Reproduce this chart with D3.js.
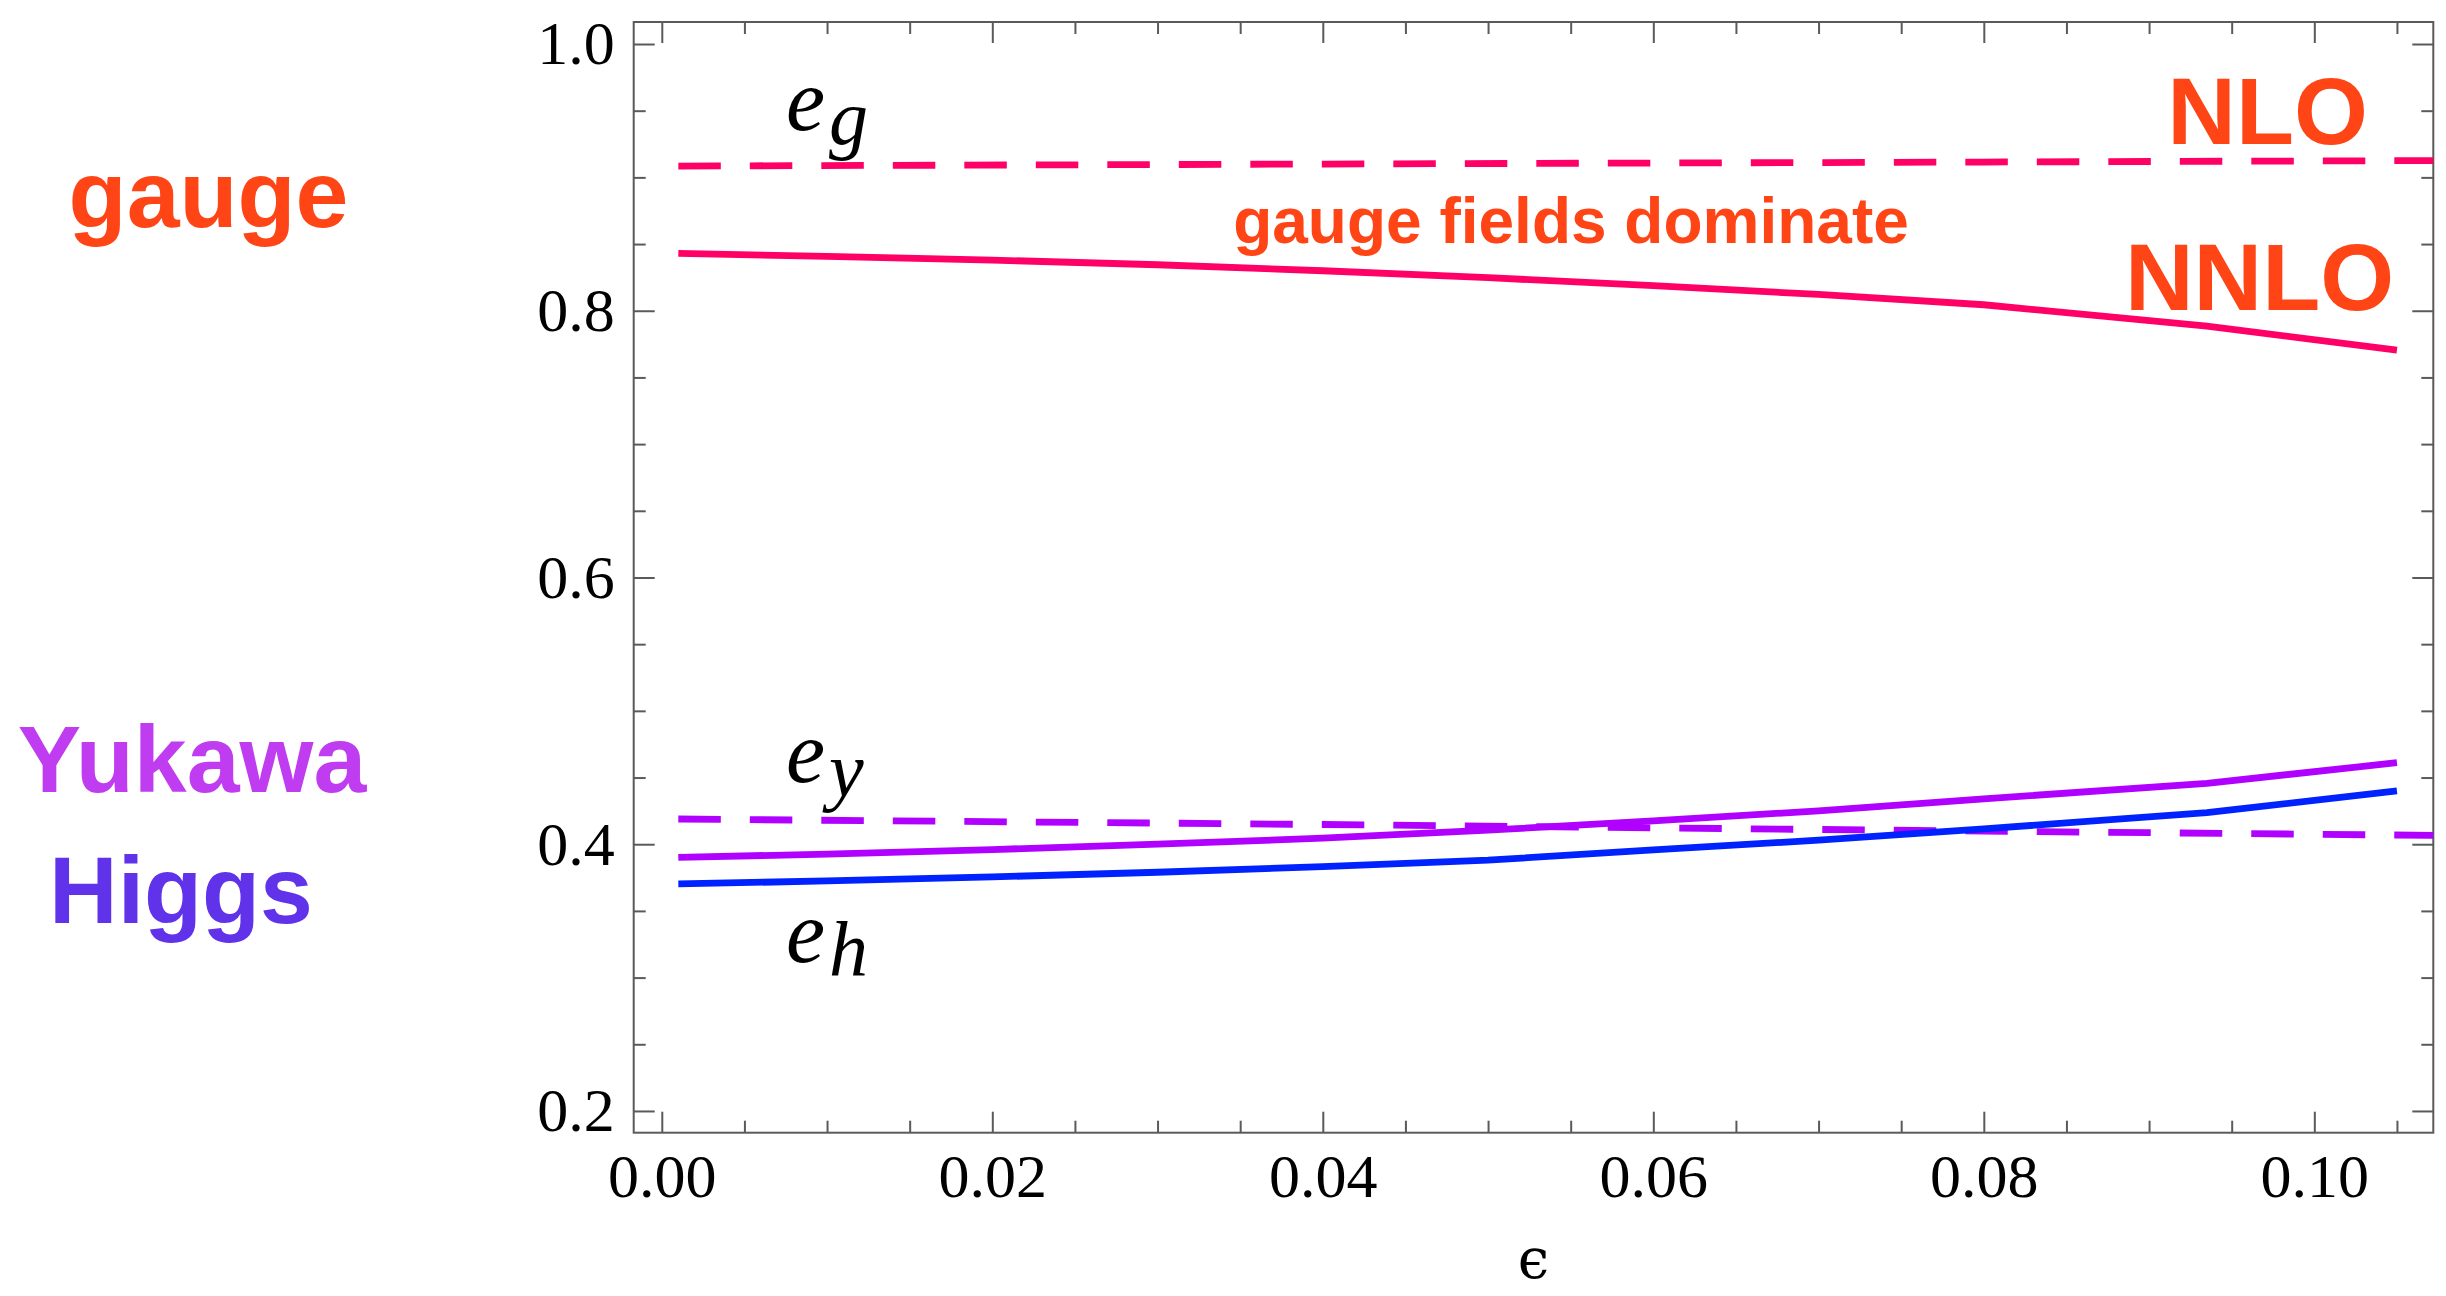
<!DOCTYPE html>
<html>
<head>
<meta charset="utf-8">
<script src="https://cdn.jsdelivr.net/npm/d3@7"></script>
<style>
  html, body { margin: 0; padding: 0; background: #fff; }
  svg { display: block; }
</style>
</head>
<body>
<svg id="chart" width="2446" height="1296"></svg>
<script>
// Expansion parameter ε at which the couplings are evaluated
const eps = [0.001, 0.01, 0.02, 0.03, 0.04, 0.05, 0.06, 0.07, 0.08, 0.0935, 0.105];
// NNLO results (solid curves)
const gaugeNNLO  = [0.8430, 0.8408, 0.8380, 0.8345, 0.8300, 0.8248, 0.8188, 0.8122, 0.8045, 0.7885, 0.7705];
const yukawaNNLO = [0.3902, 0.3925, 0.3960, 0.4000, 0.4045, 0.4105, 0.4175, 0.4250, 0.4340, 0.4457, 0.4611];
const higgsNNLO  = [0.3702, 0.3725, 0.3755, 0.3790, 0.3832, 0.3880, 0.3958, 0.4030, 0.4115, 0.4237, 0.4400];
// NLO results (dashed curves)
const epsNLO    = [0.001, 0.04, 0.08, 0.11];
const gaugeNLO  = [0.9085, 0.9100, 0.9115, 0.9127];
const yukawaNLO = [0.4189, 0.4148, 0.4098, 0.4063];
// Tick values
const xMajor = [0, 0.02, 0.04, 0.06, 0.08, 0.10];
const xMinor = [0.005, 0.01, 0.015, 0.025, 0.03, 0.035, 0.045, 0.05, 0.055, 0.065, 0.07, 0.075, 0.085, 0.09, 0.095, 0.105];
const yMajor = [0.2, 0.4, 0.6, 0.8, 1.0];
const yMinor = [0.25, 0.3, 0.35, 0.45, 0.5, 0.55, 0.65, 0.7, 0.75, 0.85, 0.9, 0.95];

const svg = d3.select("#chart");
const frame = { left: 633.7, right: 2433.3, top: 22, bottom: 1132.7 };

const x = d3.scaleLinear().domain([-0.0017, 0.1072]).range([frame.left, frame.right]);
const y = d3.scaleLinear().domain([0.1837, 1.0165]).range([frame.bottom, frame.top]);

const serif = "'Liberation Serif', 'Times New Roman', serif";
const sans = "'Liberation Sans', Arial, Helvetica, sans-serif";
const axisColor = "#5a5a5a";

// Plot clip
svg.append("defs").append("clipPath").attr("id", "plotClip")
  .append("rect")
  .attr("x", frame.left).attr("y", frame.top)
  .attr("width", frame.right - frame.left).attr("height", frame.bottom - frame.top);

// Axes with inward ticks on all four sides
function styleAxis(g) {
  g.select(".domain").remove();
  g.selectAll(".tick line").attr("stroke", axisColor).attr("stroke-width", 2);
  g.selectAll("text").attr("font-family", serif).attr("font-size", 62).attr("fill", "#000");
}
const axes = svg.append("g");
axes.append("g").attr("transform", `translate(0,${frame.bottom})`)
  .call(d3.axisBottom(x).tickValues(xMajor).tickSize(-21).tickPadding(20).tickFormat(d3.format(".2f")))
  .call(styleAxis);
axes.append("g").attr("transform", `translate(0,${frame.bottom})`)
  .call(d3.axisBottom(x).tickValues(xMinor).tickSize(-12).tickFormat(""))
  .call(styleAxis);
axes.append("g").attr("transform", `translate(0,${frame.top})`)
  .call(d3.axisTop(x).tickValues(xMajor).tickSize(-21).tickFormat(""))
  .call(styleAxis);
axes.append("g").attr("transform", `translate(0,${frame.top})`)
  .call(d3.axisTop(x).tickValues(xMinor).tickSize(-12).tickFormat(""))
  .call(styleAxis);
axes.append("g").attr("transform", `translate(${frame.left},0)`)
  .call(d3.axisLeft(y).tickValues(yMajor).tickSize(-21).tickPadding(19).tickFormat(d3.format(".1f")))
  .call(styleAxis);
axes.append("g").attr("transform", `translate(${frame.left},0)`)
  .call(d3.axisLeft(y).tickValues(yMinor).tickSize(-12).tickFormat(""))
  .call(styleAxis);
axes.append("g").attr("transform", `translate(${frame.right},0)`)
  .call(d3.axisRight(y).tickValues(yMajor).tickSize(-21).tickFormat(""))
  .call(styleAxis);
axes.append("g").attr("transform", `translate(${frame.right},0)`)
  .call(d3.axisRight(y).tickValues(yMinor).tickSize(-12).tickFormat(""))
  .call(styleAxis);

// Frame
svg.append("rect")
  .attr("x", frame.left).attr("y", frame.top)
  .attr("width", frame.right - frame.left).attr("height", frame.bottom - frame.top)
  .attr("fill", "none").attr("stroke", axisColor).attr("stroke-width", 2);

// Curves
const line = d3.line().x(d => x(d[0])).y(d => y(d[1]));
const curves = [
  { xs: epsNLO, ys: gaugeNLO,  color: "#FF0066", dash: "42.5,29" },
  { xs: epsNLO, ys: yukawaNLO, color: "#B000FF", dash: "42.5,29" },
  { xs: eps,    ys: gaugeNNLO, color: "#FF0066", dash: null },
  { xs: eps,    ys: yukawaNNLO, color: "#B000FF", dash: null },
  { xs: eps,    ys: higgsNNLO, color: "#0022FF", dash: null }
];
const plot = svg.append("g").attr("clip-path", "url(#plotClip)");
curves.forEach(c => {
  plot.append("path")
    .datum(c.xs.map((v, i) => [v, c.ys[i]]))
    .attr("d", line)
    .attr("fill", "none")
    .attr("stroke", c.color)
    .attr("stroke-width", 6.8)
    .attr("stroke-dasharray", c.dash)
    .attr("stroke-linejoin", "round");
});

// Coupling labels e_g, e_y, e_h
function subLabel(px, py, sub) {
  const t = svg.append("text")
    .attr("x", px).attr("y", py)
    .attr("font-family", serif).attr("font-style", "italic")
    .attr("font-size", 88).attr("fill", "#000");
  t.append("tspan").text("e");
  t.append("tspan").attr("dx", 4).attr("dy", 14).attr("font-size", 78).text(sub);
}
subLabel(786, 130, "g");
subLabel(786, 782, "y");
subLabel(786, 962, "h");

// Axis title
svg.append("text")
  .attr("x", (frame.left + frame.right) / 2).attr("y", 1278)
  .attr("text-anchor", "middle")
  .attr("font-family", "'DejaVu Serif', serif").attr("font-size", 56).attr("fill", "#000")
  .text("ϵ");

// Annotations
function note(px, py, txt, color, size) {
  svg.append("text")
    .attr("x", px).attr("y", py)
    .attr("text-anchor", "middle")
    .attr("font-family", sans).attr("font-weight", "bold")
    .attr("font-size", size).attr("fill", color)
    .text(txt);
}
note(208.5, 227, "gauge", "#FF4416", 95);
note(192, 792, "Yukawa", "#C03CF0", 95);
note(181, 923, "Higgs", "#6033EA", 95);
note(2267.6, 144, "NLO", "#FF4416", 95);
note(2259.5, 310, "NNLO", "#FF4416", 95);
note(1571, 243, "gauge fields dominate", "#FF4416", 64);
</script>
</body>
</html>
